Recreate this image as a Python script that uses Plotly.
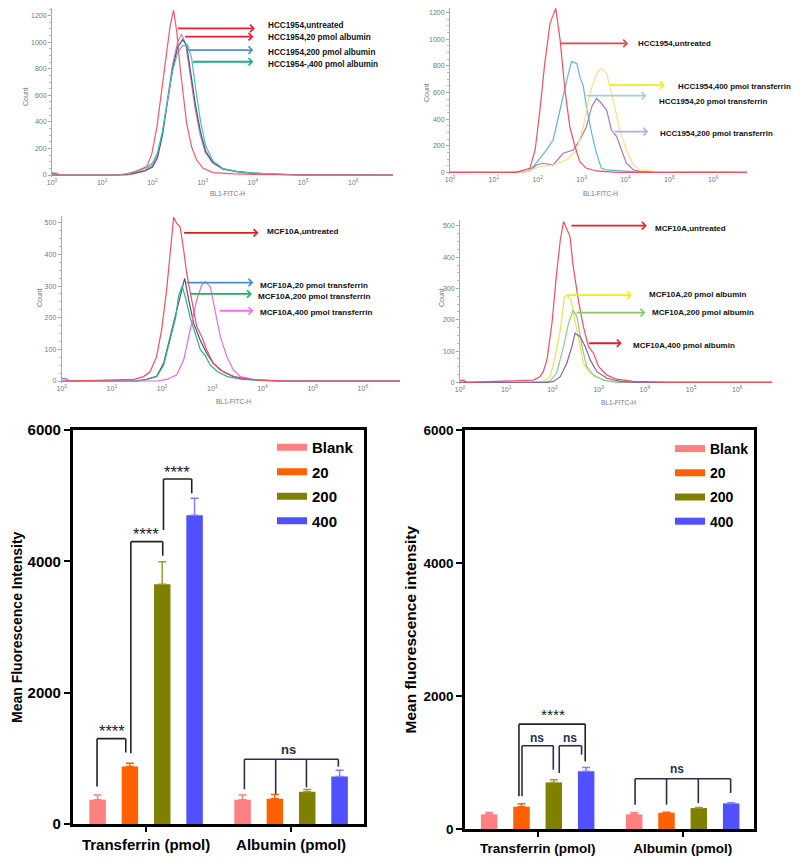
import plotly.graph_objects as go

W, H = 800, 861
OFF = 8  # the page body margin shifts the figure by this many pixels

# ---------------- flow cytometry histograms: x = log10(BL1-FITC-H), y = count
# HCC1954 + albumin
hcc_alb_untreated_x = [0, 0.05, 0.12, 1.5, 1.89, 1.99, 2.09, 2.19, 2.28, 2.35, 2.42, 2.48, 2.55, 2.62, 2.68, 2.78, 2.88, 3.01, 3.21, 3.61, 4.5, 6.79]
hcc_alb_untreated_y = [12, 12, 0, 0, 63, 163, 364, 665, 941, 1117, 1242, 1092, 815, 590, 389, 213, 113, 50, 18, 8, 2, 0]
hcc_alb_20_x = [0, 1.3, 1.6, 1.85, 2.0, 2.1, 2.2, 2.3, 2.4, 2.5, 2.58, 2.66, 2.75, 2.85, 2.95, 3.05, 3.2, 3.4, 3.7, 4.0, 4.5, 5.0, 6.79]
hcc_alb_20_y = [0, 0, 10, 35, 75, 150, 320, 560, 830, 1000, 1060, 990, 760, 500, 300, 170, 90, 45, 22, 12, 5, 0, 0]
hcc_alb_200_x = [0, 1.3, 1.6, 1.85, 2.0, 2.1, 2.2, 2.3, 2.4, 2.5, 2.6, 2.68, 2.76, 2.86, 2.96, 3.06, 3.2, 3.4, 3.7, 4.0, 4.5, 5.0, 6.79]
hcc_alb_200_y = [0, 0, 8, 30, 60, 130, 300, 540, 800, 960, 1020, 980, 780, 520, 320, 180, 95, 45, 25, 14, 5, 0, 0]
hcc_alb_400_x = [0, 0.1, 0.15, 1.3, 1.5, 1.75, 1.9, 2.0, 2.1, 2.2, 2.3, 2.4, 2.5, 2.6, 2.7, 2.78, 2.86, 2.96, 3.06, 3.2, 3.4, 3.7, 4.0, 4.5, 5.0, 6.79]
hcc_alb_400_y = [15, 15, 0, 0, 10, 35, 60, 90, 170, 330, 560, 780, 920, 975, 980, 880, 650, 400, 220, 110, 50, 25, 15, 5, 0, 0]
hcc_alb_labels = ["HCC1954,untreated", "HCC1954,20 pmol albumin",
                  "HCC1954,200 pmol albumin", "HCC1954-,400 pmol albumin"]

# HCC1954 + transferrin
hcc_tf_untreated_x = [0, 1.5, 1.82, 1.94, 2.05, 2.16, 2.28, 2.41, 2.51, 2.62, 2.73, 2.85, 2.96, 3.11, 3.34, 3.8, 6.77]
hcc_tf_untreated_y = [0, 0, 30, 168, 468, 819, 1120, 1232, 995, 619, 343, 193, 80, 30, 10, 0, 0]
hcc_tf_20_x = [0, 1.5, 1.75, 1.9, 2.05, 2.2, 2.35, 2.47, 2.58, 2.7, 2.77, 2.89, 2.96, 3.04, 3.11, 3.23, 3.34, 3.45, 3.57, 4.18, 4.9, 6.77]
hcc_tf_20_y = [0, 0, 5, 43, 105, 168, 243, 418, 594, 744, 832, 819, 719, 644, 493, 293, 143, 30, 18, 5, 0, 0]
hcc_tf_200_x = [0, 1.5, 1.82, 1.97, 2.13, 2.35, 2.58, 2.81, 2.96, 3.11, 3.23, 3.34, 3.45, 3.57, 3.68, 3.8, 3.91, 4.02, 4.18, 4.33, 4.9, 5.7, 6.77]
hcc_tf_200_y = [0, 0, 10, 55, 68, 55, 143, 168, 243, 343, 493, 556, 519, 468, 318, 268, 168, 68, 18, 8, 3, 0, 0]
hcc_tf_400_x = [0, 1.5, 1.75, 2.05, 2.35, 2.66, 2.89, 3.04, 3.19, 3.34, 3.45, 3.57, 3.72, 3.87, 4.02, 4.18, 4.33, 4.63, 5.3, 5.7, 6.77]
hcc_tf_400_y = [0, 0, 5, 43, 55, 93, 168, 343, 594, 744, 782, 744, 544, 318, 168, 55, 18, 8, 3, 0, 0]
hcc_tf_labels = ["HCC1954,untreated", "HCC1954,400 pmol transferrin",
                 "HCC1954,20 pmol transferrin", "HCC1954,200 pmol transferrin"]

# MCF10A + transferrin
mcf_tf_untreated_x = [0, 0.08, 0.15, 1.44, 1.63, 1.76, 1.89, 1.99, 2.09, 2.16, 2.23, 2.29, 2.36, 2.43, 2.49, 2.59, 2.69, 2.79, 2.89, 3.02, 3.16, 3.36, 3.56, 3.95, 4.5, 6.74]
mcf_tf_untreated_y = [8, 8, 0, 5, 14, 29, 77, 161, 287, 393, 517, 498, 487, 414, 340, 256, 172, 140, 98, 56, 35, 19, 8, 3, 0, 0]
mcf_tf_20_x = [0, 1.5, 1.69, 1.89, 2.03, 2.16, 2.29, 2.39, 2.45, 2.53, 2.63, 2.76, 2.89, 3.02, 3.22, 3.42, 3.75, 4.3, 6.74]
mcf_tf_20_y = [0, 0, 5, 14, 56, 140, 214, 287, 324, 256, 182, 129, 87, 56, 29, 14, 5, 0, 0]
mcf_tf_200_x = [0, 1.5, 1.7, 1.9, 2.03, 2.16, 2.27, 2.33, 2.4, 2.47, 2.56, 2.66, 2.76, 2.86, 2.96, 3.1, 3.3, 3.6, 4.2, 6.74]
mcf_tf_200_y = [0, 0, 5, 16, 50, 130, 200, 270, 300, 260, 200, 150, 100, 80, 50, 30, 14, 5, 0, 0]
mcf_tf_400_x = [0, 1.9, 2.09, 2.29, 2.43, 2.56, 2.69, 2.79, 2.86, 2.96, 3.06, 3.16, 3.29, 3.42, 3.56, 3.82, 4.3, 6.74]
mcf_tf_400_y = [0, 0, 5, 19, 66, 161, 256, 303, 314, 298, 214, 140, 77, 35, 14, 5, 0, 0]
mcf_tf_labels = ["MCF10A,untreated", "MCF10A,20 pmol transferrin",
                 "MCF10A,200 pmol transferrin", "MCF10A,400 pmol transferrin"]

# MCF10A + albumin
mcf_alb_untreated_x = [0, 0.08, 0.15, 1.59, 1.73, 1.8, 1.88, 1.99, 2.09, 2.17, 2.24, 2.31, 2.38, 2.45, 2.56, 2.67, 2.78, 2.89, 3.0, 3.18, 3.39, 3.75, 4.5, 6.75]
mcf_alb_untreated_y = [6, 6, 0, 7, 18, 34, 71, 189, 349, 455, 514, 492, 466, 370, 263, 178, 114, 93, 50, 23, 10, 3, 0, 0]
mcf_alb_20_x = [0, 1.6, 1.8, 1.95, 2.06, 2.17, 2.26, 2.31, 2.4, 2.49, 2.6, 2.67, 2.78, 2.92, 3.18, 3.61, 6.75]
mcf_alb_20_y = [0, 0, 3, 18, 82, 167, 274, 279, 263, 199, 114, 61, 34, 18, 5, 0, 0]
mcf_alb_200_x = [0, 1.8, 1.95, 2.09, 2.24, 2.35, 2.45, 2.53, 2.64, 2.74, 2.89, 3.1, 3.39, 6.75]
mcf_alb_200_y = [0, 0, 5, 29, 114, 189, 231, 210, 114, 50, 23, 7, 0, 0]
mcf_alb_400_x = [0, 1.9, 2.02, 2.17, 2.31, 2.42, 2.49, 2.6, 2.71, 2.82, 2.96, 3.18, 3.47, 3.8, 6.75]
mcf_alb_400_y = [0, 0, 3, 18, 61, 114, 157, 146, 114, 71, 34, 13, 3, 0, 0]
mcf_alb_labels = ["MCF10A,untreated", "MCF10A,20 pmol albumin",
                  "MCF10A,200 pmol albumin", "MCF10A,400 pmol albumin"]

decade_ticks = [0, 1, 2, 3, 4, 5, 6]
decade_text = ["10<sup>%d</sup>" % d for d in decade_ticks]

# ---------------- mean fluorescence intensity bars
groups = ["Transferrin (pmol)", "Albumin (pmol)"]
doses = ["Blank", "20", "200", "400"]

hcc_blank = [370, 370]
hcc_20 = [875, 385]
hcc_200 = [3650, 490]
hcc_400 = [4700, 725]
hcc_blank_err = [70, 70]
hcc_20_err = [50, 65]
hcc_200_err = [345, 35]
hcc_400_err = [260, 95]

mcf_blank = [220, 220]
mcf_20 = [335, 245]
mcf_200 = [700, 315]
mcf_400 = [870, 385]
mcf_blank_err = [30, 30]
mcf_20_err = [45, 8]
mcf_200_err = [40, 10]
mcf_400_err = [55, 10]

bar_colors = ["#ff8080", "#ff6000", "#808000", "#5050ff"]
err_colors = ["#ff8080", "#ff6000", "#9a9a40", "#8080ff"]


def xd(a, b):
    return [(a - OFF) / W, (b - OFF) / W]


def yd(top, bot):
    top = max(top, OFF)
    return [1 - (bot - OFF) / H, 1 - (top - OFF) / H]


def px(x):
    return (x - OFF) / W


def py(y):
    return 1 - (y - OFF) / H


fig = go.Figure()
layout = dict(
    width=W, height=H, margin=dict(l=0, r=0, t=0, b=0, autoexpand=False),
    plot_bgcolor="white", paper_bgcolor="white",
    barmode="group", bargap=0.108, bargroupgap=0.49,
)
annotations = []
shapes = []

# ---- histogram panels (pixel domains measured on the reference; top clipped at the page edge)
hist_panels = [
    dict(i=1, xdom=(52, 393), ydom=(8, 176.6), xr=[0, 6.79], yr=[-12, 1258], dt=200, fs=8.2,
         curves=[(hcc_alb_20_x, hcc_alb_20_y, "#c88aa8"),
                 (hcc_alb_200_x, hcc_alb_200_y, "#5a4a90"),
                 (hcc_alb_400_x, hcc_alb_400_y, "#40c8b0"),
                 (hcc_alb_untreated_x, hcc_alb_untreated_y, "#f05a6a")],
         labels=hcc_alb_labels,
         arrows=[(2.48, 4.04, 1104, "#e8202a", 4.27, 1127),
                 (2.62, 4.01, 1042, "#e8202a", 4.27, 1037),
                 (2.65, 4.01, 941, "#5b8ec8", 4.27, 924),
                 (2.78, 4.01, 853, "#1db07a", 4.27, 836)],
         count=(25, 97), title=(227, 193)),
    dict(i=2, xdom=(450, 747), ydom=(8, 173.9), xr=[0, 6.77], yr=[-12, 1235], dt=200, fs=7.9,
         curves=[(hcc_tf_20_x, hcc_tf_20_y, "#60b8d0"),
                 (hcc_tf_200_x, hcc_tf_200_y, "#a878c8"),
                 (hcc_tf_400_x, hcc_tf_400_y, "#f8e088"),
                 (hcc_tf_untreated_x, hcc_tf_untreated_y, "#f05060")],
         labels=hcc_tf_labels,
         arrows=[(2.48, 4.06, 969, "#e84050", 4.25, 969),
                 (3.61, 4.90, 656, "#f0f000", 5.15, 644),
                 (3.08, 4.48, 576, "#a8c8e8", 4.71, 531),
                 (3.72, 4.52, 306, "#b8a8d8", 4.75, 293)],
         count=(427, 93), title=(600, 193)),
    dict(i=3, xdom=(61.7, 400), ydom=(216.4, 382.6), xr=[0, 6.74], yr=[-5, 520], dt=100, fs=8.1,
         curves=[(mcf_tf_20_x, mcf_tf_20_y, "#505090"),
                 (mcf_tf_200_x, mcf_tf_200_y, "#30b080"),
                 (mcf_tf_400_x, mcf_tf_400_y, "#e868e0"),
                 (mcf_tf_untreated_x, mcf_tf_untreated_y, "#f05060")],
         labels=mcf_tf_labels,
         arrows=[(2.41, 3.92, 468, "#d82020", 4.05, 472),
                 (2.46, 3.82, 311, "#4a8ad0", 3.92, 303),
                 (2.54, 3.79, 275, "#20b060", 3.87, 266),
                 (3.12, 3.82, 222, "#f070f0", 3.91, 216)],
         count=(39, 298), title=(233, 401)),
    dict(i=4, xdom=(460, 772), ydom=(219.7, 383.9), xr=[0, 6.75], yr=[-5, 520], dt=100, fs=8.0,
         curves=[(mcf_alb_20_x, mcf_alb_20_y, "#f0e050"),
                 (mcf_alb_200_x, mcf_alb_200_y, "#90c890"),
                 (mcf_alb_400_x, mcf_alb_400_y, "#7868b0"),
                 (mcf_alb_untreated_x, mcf_alb_untreated_y, "#f05060")],
         labels=mcf_alb_labels,
         arrows=[(2.38, 4.04, 501, "#e82020", 4.17, 491),
                 (2.29, 3.72, 279, "#f0f000", 4.04, 282),
                 (2.49, 4.01, 223, "#80c868", 4.12, 223),
                 (2.76, 3.50, 125, "#e02020", 3.70, 117)],
         count=(441, 298), title=(618, 402)),
]

small_font = dict(family="Arial", size=7, color="#777")

for p in hist_panels:
    i = p["i"]
    xa, ya = "x%d" % i, "y%d" % i
    label_font = dict(family="Arial", size=p["fs"], color="#111", weight="bold")
    for xs, ys, c in p["curves"]:
        fig.add_trace(go.Scatter(x=xs, y=ys, mode="lines", line=dict(color=c, width=1.2),
                                 xaxis=xa, yaxis=ya, showlegend=False, hoverinfo="skip"))
    layout["xaxis%d" % i] = dict(
        domain=xd(*p["xdom"]), anchor=ya, range=p["xr"], showgrid=False, zeroline=False,
        showline=False, tickvals=decade_ticks, ticktext=decade_text, tickfont=small_font,
        ticks="", automargin=False, fixedrange=True)
    layout["yaxis%d" % i] = dict(
        domain=yd(*p["ydom"]), anchor=xa, range=p["yr"], showgrid=False, zeroline=False,
        showline=True, linecolor="#aaa", linewidth=1, dtick=p["dt"], tick0=0,
        ticks="outside", ticklen=3, tickcolor="#aaa", tickfont=small_font, automargin=False,
        minor=dict(ticks="outside", ticklen=2, tickcolor="#bbb", dtick=p["dt"] / 4))
    for (tail, head, yv, c, tx, ty), lab in zip(p["arrows"], p["labels"]):
        annotations.append(dict(
            x=head, y=yv, ax=tail, ay=yv, xref=xa, yref=ya, axref=xa, ayref=ya,
            text="", showarrow=True, arrowhead=4, arrowsize=0.8, arrowwidth=1.8,
            arrowcolor=c))
        annotations.append(dict(
            x=tx, y=ty, xref=xa, yref=ya, text=lab, showarrow=False,
            xanchor="left", yanchor="middle", font=label_font))
    cx, cy = p["count"]
    annotations.append(dict(x=px(cx), y=py(cy), xref="paper", yref="paper", text="Count",
                            textangle=-90, showarrow=False, xanchor="center",
                            yanchor="middle", font=small_font))
    tx, ty = p["title"]
    annotations.append(dict(x=px(tx), y=py(ty), xref="paper", yref="paper",
                            text="BL1-FITC-H", showarrow=False, xanchor="center",
                            yanchor="middle",
                            font=dict(family="Arial", size=6.5, color="#777")))

# ---- bar panels
bar_panels = [
    dict(i=5, xdom=(72.7, 364), ydom=(430, 824), xr=[-0.506, 1.503], fs=15, ts=14,
         means=[hcc_blank, hcc_20, hcc_200, hcc_400],
         errs=[hcc_blank_err, hcc_20_err, hcc_200_err, hcc_400_err],
         legend="legend", ytitle="Mean Fluorescence Intensity", ytx=17),
    dict(i=6, xdom=(465, 754), ydom=(430, 829), xr=[-0.501, 1.492], fs=13.5, ts=15.5,
         means=[mcf_blank, mcf_20, mcf_200, mcf_400],
         errs=[mcf_blank_err, mcf_20_err, mcf_200_err, mcf_400_err],
         legend="legend2", ytitle="Mean fluorescence intensity", ytx=410),
]

for p in bar_panels:
    i = p["i"]
    xa, ya = "x%d" % i, "y%d" % i
    bold = dict(family="Arial", size=p["fs"], color="black", weight="bold")
    for dose, m, e, c, ec in zip(doses, p["means"], p["errs"], bar_colors, err_colors):
        fig.add_trace(go.Bar(
            x=groups, y=m, name=dose, marker=dict(color=c, line=dict(width=0)),
            error_y=dict(type="data", array=e, arrayminus=[0] * len(e), symmetric=False,
                         color=ec, thickness=1.5, width=4),
            xaxis=xa, yaxis=ya, showlegend=False, hoverinfo="skip"))
    for dose, c in zip(doses, bar_colors):
        fig.add_trace(go.Scatter(
            x=[None], y=[None], mode="lines", line=dict(color=c, width=7), name=dose,
            legend=p["legend"], legendgroup=p["legend"] + dose, xaxis=xa, yaxis=ya))
    layout["xaxis%d" % i] = dict(
        domain=xd(*p["xdom"]), anchor=ya, type="category", range=p["xr"],
        showline=True, linecolor="black", linewidth=2.5, mirror=True, showgrid=False,
        ticks="outside", ticklen=5, tickwidth=2, tickcolor="black", tickfont=bold,
        automargin=False, fixedrange=True)
    layout["yaxis%d" % i] = dict(
        domain=yd(*p["ydom"]), anchor=xa, range=[0, 6000], tickvals=[0, 2000, 4000, 6000],
        showline=True, linecolor="black", linewidth=2.5, mirror=True, showgrid=False,
        zeroline=False, ticks="outside", ticklen=6, tickwidth=2, tickcolor="black",
        tickfont=bold, automargin=False, fixedrange=True)
    ymid = (p["ydom"][0] + p["ydom"][1]) / 2
    annotations.append(dict(
        x=px(p["ytx"]), y=py(ymid), xref="paper", yref="paper", text=p["ytitle"],
        textangle=-90, showarrow=False, xanchor="center", yanchor="middle",
        font=dict(family="Arial", size=p["ts"], color="black", weight="bold")))

leg_common = dict(xanchor="left", yanchor="top", bgcolor="rgba(0,0,0,0)", itemwidth=30)
layout["legend"] = dict(x=px(272), y=py(431), tracegroupgap=2,
                        font=dict(family="Arial", size=15, color="black", weight="bold"),
                        **leg_common)
layout["legend2"] = dict(x=px(670), y=py(433), tracegroupgap=3,
                         font=dict(family="Arial", size=14, color="black", weight="bold"),
                         **leg_common)

# ---- significance brackets: (x0, x1, y_top, y_left_foot, y_right_foot, color)
dark, navy = "#222222", "#2d2d4f"
brackets5 = [(-0.338, -0.14, 1300, 570, 1090, dark),
             (-0.105, 0.115, 4300, 1076, 4086, dark),
             (0.12, 0.315, 5254, 4477, 5035, dark),
             (0.678, 1.326, 985, 528, 873, navy)]
brackets6 = [(-0.129, 0.328, 1577, 491, 1017, dark),
             (-0.108, 0.108, 1252, 491, 891, navy),
             (0.149, 0.303, 1252, 841, 1117, navy),
             (0.672, 1.331, 756, 366, 541, navy)]
inner_legs = {5: [(0.894, 985, 457), (1.106, 985, 558)],
              6: [(0.889, 756, 366), (1.108, 756, 391)]}
sig_texts = {5: [(-0.237, 1421, "****", dark), (-0.002, 4411, "****", dark),
                 (0.214, 5365, "****", dark), (0.982, 1137, "ns", navy)],
             6: [(0.103, 1718, "****", dark), (-0.003, 1362, "ns", navy),
                 (0.223, 1362, "ns", navy), (0.963, 906, "ns", navy)]}
star_size = {5: 16.5, 6: 15.5}
ns_size = {5: 13, 6: 12}

for i, brs in ((5, brackets5), (6, brackets6)):
    xa, ya = "x%d" % i, "y%d" % i
    for x0, x1, yt, yl, yr_, c in brs:
        for seg in ((x0, yl, x0, yt), (x0, yt, x1, yt), (x1, yt, x1, yr_)):
            shapes.append(dict(type="line", xref=xa, yref=ya, x0=seg[0], y0=seg[1],
                               x1=seg[2], y1=seg[3], line=dict(color=c, width=1.6)))
    for x, yt, yb in inner_legs[i]:
        shapes.append(dict(type="line", xref=xa, yref=ya, x0=x, y0=yt, x1=x, y1=yb,
                           line=dict(color=navy, width=1.6)))
    for x, y, t, c in sig_texts[i]:
        if t == "ns":
            f = dict(family="Arial", size=ns_size[i], color=c, weight="bold")
        else:
            f = dict(family="Arial", size=star_size[i], color=c)
        annotations.append(dict(x=x, y=y, xref=xa, yref=ya, text=t, showarrow=False,
                                xanchor="center", yanchor="middle", font=f))

layout["annotations"] = annotations
layout["shapes"] = shapes
fig.update_layout(**layout)
fig.write_html("out.html")
